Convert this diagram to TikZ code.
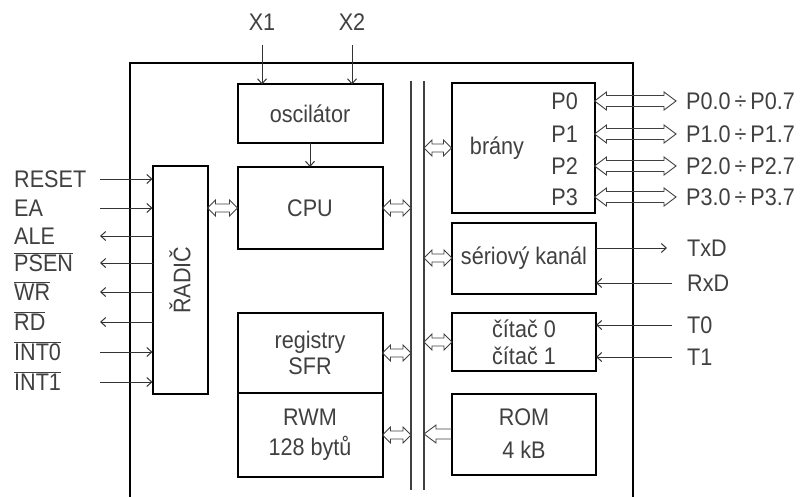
\documentclass[tikz,border=0pt]{standalone}
\usepackage{fontspec}
\setmainfont{Liberation Sans}[FakeStretch=0.9]
\usetikzlibrary{arrows.meta,calc,positioning}

\begin{document}
\begin{tikzpicture}[x=1pt, y=-1pt, >={Straight Barb[length=5pt,width=9pt]},
  font=\fontsize{24}{28}\selectfont, text=black!75,
  blk/.style={draw, line width=2pt, outer sep=0pt, inner sep=0pt, minimum width=145pt},
  chip/.style={draw, line width=2pt},
  bus/.style={draw=black!75, line width=1.3pt},
  sig/.style={draw=black!80, line width=1pt},
  lbl/.style={inner sep=0pt},
  hol/.style={draw=black!75, line width=0.9pt},
  dbl/.style n args={3}{to path={let \p1=(\tikztostart), \p2=(\tikztotarget) in
    (\p1) -- (\x1+#1,\y1+#2) -- (\x1+#1,\y1+#3) -- (\x2-#1,\y2+#3) -- (\x2-#1,\y2+#2) -- (\p2)
    -- (\x2-#1,\y2-#2) -- (\x2-#1,\y2-#3) -- (\x1+#1,\y1-#3) -- (\x1+#1,\y1-#2) -- cycle}},
  sdbl/.style={dbl={8pt}{8pt}{4pt}},
  pdbl/.style={dbl={12pt}{9pt}{5.5pt}},
  hrom/.style={to path={let \p1=(\tikztostart), \p2=(\tikztotarget) in
    (\x2,\y2-5pt) -- (\x1+12pt,\y1-5pt) -- (\x1+12pt,\y1-9pt) -- (\p1)
    -- (\x1+12pt,\y1+9pt) -- (\x1+12pt,\y1+5pt) -- (\x2,\y2+5pt)}}]
  \useasboundingbox (0,0) rectangle (802,497);
  % chip outline and internal bus
  \draw[chip] (130,497) |- (633,63) -- (633,497);
  \coordinate (busL) at (411,81);
  \coordinate (busR) at (424,81);
  \draw[bus] (busL) -- ++(0,409);
  \draw[bus] (busR) -- ++(0,409);
  % blocks
  \node[blk, minimum height=59pt] (osc) at (310,114) {oscilátor};
  \node[blk, minimum height=82pt] (cpu) at (310,208) {CPU};
  \node[blk, minimum width=55pt, minimum height=227pt] (radic) at (180,280) {\rotatebox{90}{ŘADIČ}};
  \node[blk, minimum height=80pt, align=center] (sfr) at (310,353) {registry\\[-2pt]SFR};
  \node[blk, minimum height=84pt, align=center, below=0pt of sfr] (rwm) {RWM\\[2pt]128 bytů};
  \node[blk, minimum width=143pt, minimum height=130pt] (brany) at (523,148) {};
  \node (branyT) at (497,148) {brány};
  \node[blk, minimum width=144pt, minimum height=71pt] (serial) at (524,258) {sériový kanál};
  \node[blk, minimum width=144pt, minimum height=58pt, align=center] (citac) at (524,342) {čítač 0\\[-1pt]čítač 1};
  \node[blk, minimum width=144pt, minimum height=81pt, align=center] (rom) at (524,434) {ROM\\[5pt]4 kB};
  % crystal inputs
  \node (x1) at (262,22) {X1};
  \node (x2) at (352,22) {X2};
  \coordinate (xtop) at (0,45);
  \draw[sig,->] (x1 |- xtop) -- (x1 |- osc.north);
  \draw[sig,->] (x2 |- xtop) -- (x2 |- osc.north);
  \draw[sig,->] (osc) -- (cpu);
  % bus connections
  \draw[hol] (radic.east |- cpu) to[sdbl] (cpu.west);
  \draw[hol] (cpu.east) to[sdbl] (busL |- cpu.east);
  \draw[hol] (sfr.east) to[sdbl] (busL |- sfr.east);
  \draw[hol] (rwm.east) to[sdbl] (busL |- rwm.east);
  \draw[hol] (busR |- brany.west) to[sdbl] (brany.west);
  \draw[hol] (busR |- serial.west) to[sdbl] (serial.west);
  \draw[hol] (busR |- citac.west) to[sdbl] (citac.west);
  \draw[hol] (busR |- rom.west) to[hrom] (rom.west);
  % ports
  \foreach \y/\i in {101/0, 134/1, 166/2, 197/3}{
    \node[lbl, anchor=base east] (p\i) at (578,\y+8.5) {P\i};
    \node[lbl, anchor=base west] (pp\i) at (686,\y+8.5) {P\i.0\,÷\,P\i.7};
    \coordinate (pe\i) at (676,\y);
    \draw[hol] (brany.east |- pe\i) to[pdbl] (pe\i);
  }
  % control signals
  \foreach \y/\n/\t/\d in {179/reset/RESET/->, 208/ea/EA/->, 236/ale/ALE/<-,
      263/psen/{$\overline{\mbox{PSEN}}$}/<-, 292/wr/{$\overline{\mbox{WR}}$}/<-,
      322/rd/{$\overline{\mbox{RD}}$}/<-, 352/int0/{$\overline{\mbox{INT0}}$}/->,
      382/int1/{$\overline{\mbox{INT1}}$}/->}{
    \coordinate (\n-o) at (100,\y);
    \node[lbl, anchor=base west] (\n) at (14,\y+8.5) {\t};
    \draw[sig,\d] (\n-o) -- (\n-o -| radic.west);
  }
  % serial line and timers
  \foreach \y/\e/\n/\t/\d/\b in {248/667/txd/TxD/->/serial, 283/672/rxd/RxD/<-/serial,
      325/672/t0/T0/<-/citac, 357/672/t1/T1/<-/citac}{
    \coordinate (\n-o) at (\e,\y);
    \node[lbl, anchor=base west] (\n) at (687,\y+8.5) {\t};
    \draw[sig,\d] (\b.east |- \n-o) -- (\n-o);
  }
\end{tikzpicture}
\end{document}
